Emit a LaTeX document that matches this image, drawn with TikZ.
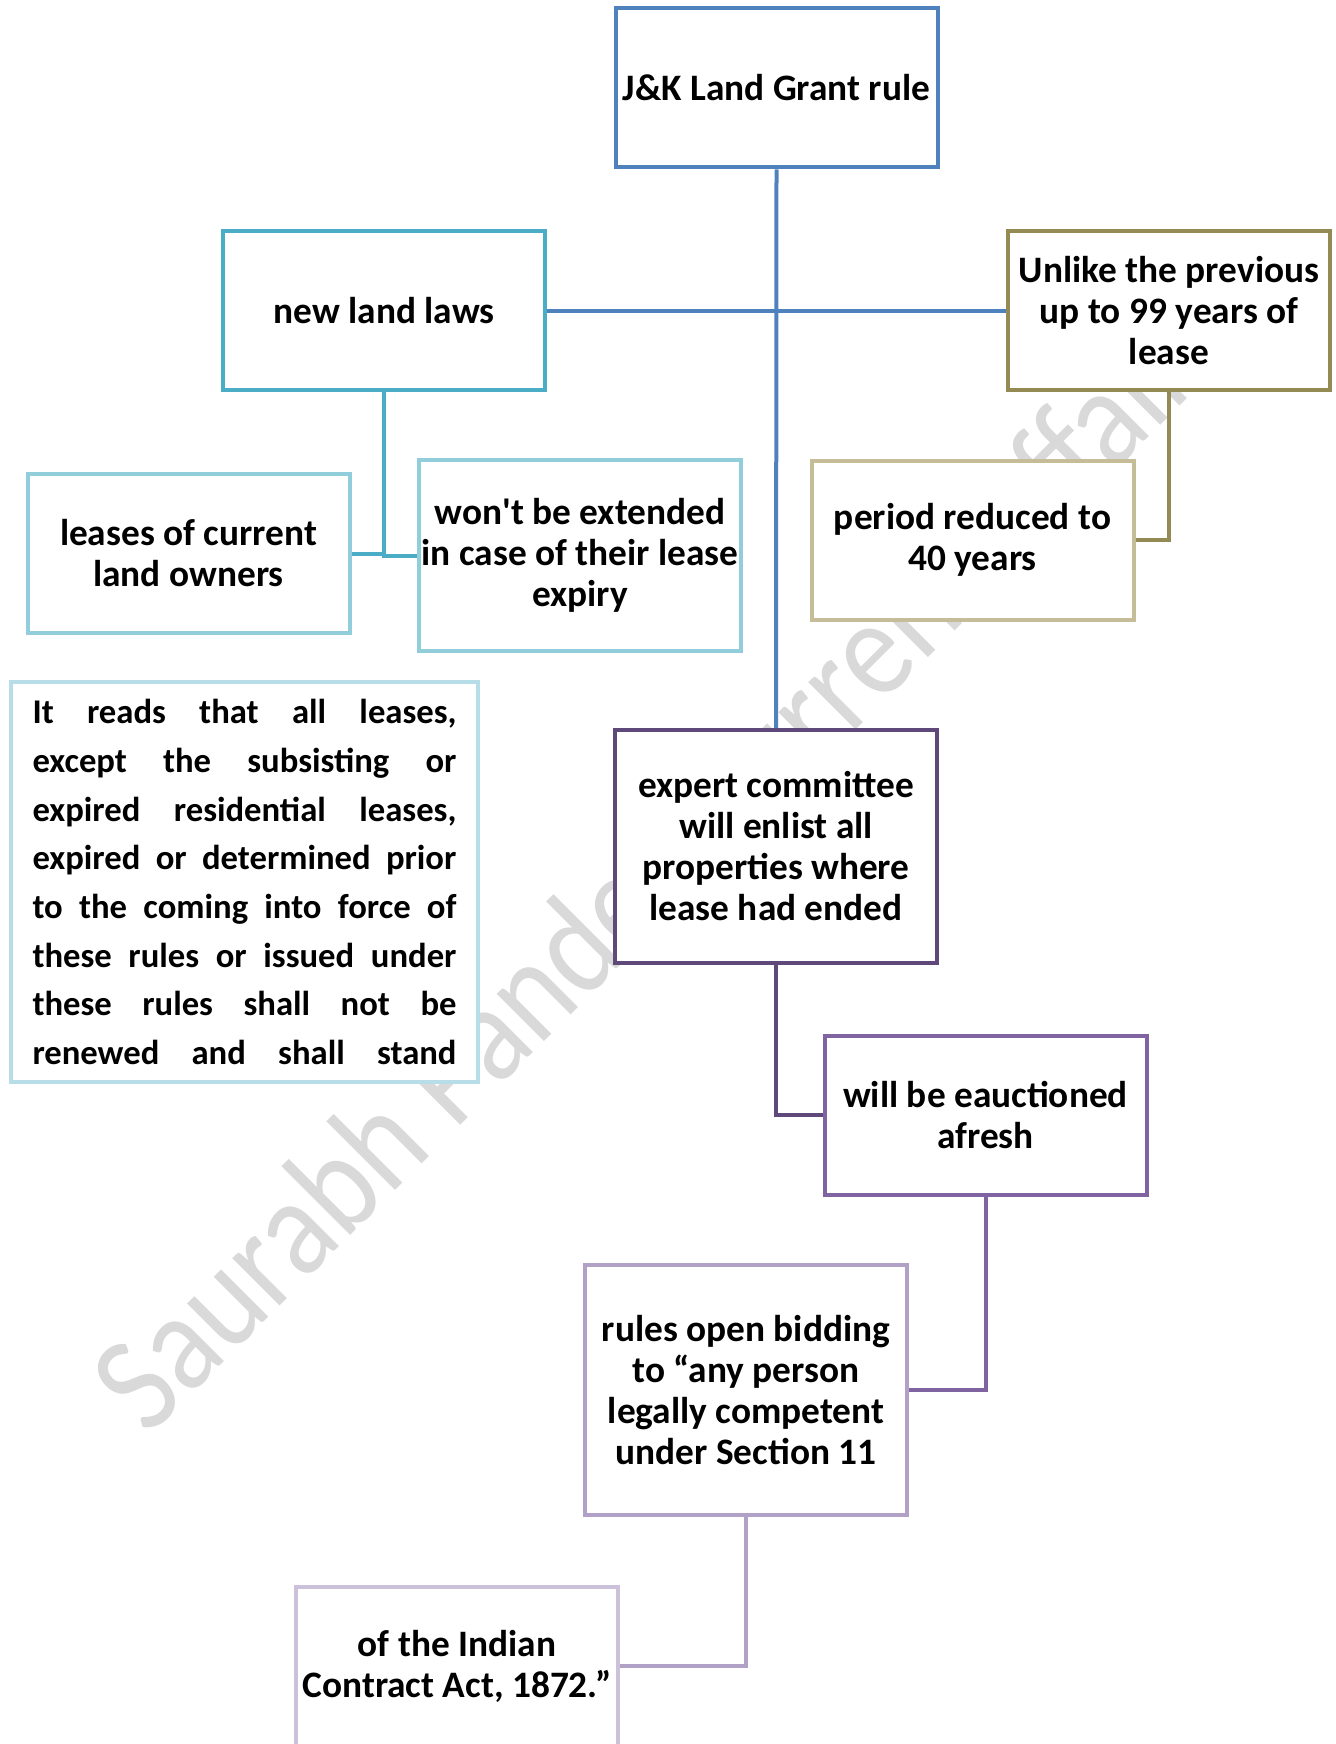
\documentclass[tikz,border=0pt]{standalone}
\usepackage{fontspec}
\setmainfont{Carlito}
\definecolor{gblue}{HTML}{4F81BD}
\definecolor{gaqua}{HTML}{4BACC6}
\definecolor{laqua}{HTML}{92CDDC}
\definecolor{paqua}{HTML}{B7DEE8}
\definecolor{olive}{HTML}{948A54}
\definecolor{tan}{HTML}{C4BD97}
\definecolor{dpurple}{HTML}{5F497A}
\definecolor{mpurple}{HTML}{8064A2}
\definecolor{lpurple}{HTML}{B2A1C7}
\definecolor{ppurple}{HTML}{CCC1DA}
\definecolor{wgray}{HTML}{D9D9D9}
\tikzset{
  box/.style={draw=#1, line width=3pt, fill=white, align=center, inner sep=1pt,
    minimum width=241.5pt, minimum height=119.25pt,
    font=\bfseries\fontsize{28}{30.75}\selectfont},
  link/.style={draw=#1, line width=3pt},
  wmark/.style={text=wgray, rotate=45, xscale=0.87, anchor=base, font=\fontsize{105}{105}\selectfont}
}
\newcommand{\jline}[1]{\makebox[318pt][s]{#1}}

\begin{document}
\begin{tikzpicture}[x=0.75pt,y=-0.75pt]
\useasboundingbox (0,0) rectangle (1335,1744);
\clip (0,0) rectangle (1335,1744);
\node[wmark] (watermark) at (693,893) {Saurabh Pandey Current Affairs};
\node[box=gblue] (grant) at (776.5,88) {J\&K Land Grant rule};
\node[box=gaqua] (newlaws) at (384,310.5) {new land laws};
\node[box=olive] (unlike) at (1169,310.5) {Unlike the previous\\ up to 99 years of\\ lease};
\node[box=laqua] (leases) at (188.5,553.5) {leases of current\\ land owners};
\node[box=laqua, minimum height=143.25pt] (wontext) at (580,555.5) {won\textquotesingle t be extended\\ in case of their lease\\ expiry};
\node[box=tan] (period) at (972.5,540) {period reduced to\\ 40 years};
\node[box=paqua, minimum width=350.25pt, minimum height=300pt, align=left,
  font=\bfseries\fontsize{26}{36.5}\selectfont] (itreads) at (244.5,882) {%
\jline{It reads that all leases,}\\
\jline{except the subsisting or}\\
\jline{expired residential leases,}\\
\jline{expired or determined prior}\\
\jline{to the coming into force of}\\
\jline{these rules or issued under}\\
\jline{these rules shall not be}\\
\jline{renewed and shall stand}};
\node[box=dpurple, minimum height=174.75pt] (expert) at (776,846.5) {expert committee\\ will enlist all\\ properties where\\ lease had ended};
\node[box=mpurple] (eauction) at (985.5,1115) {will be eauctioned\\ afresh};
\node[box=lpurple, minimum height=187.5pt] (rules) at (746,1390) {rules open bidding\\ to “any person\\ legally competent\\ under Section 11};
\node[box=ppurple] (indian) at (457,1666) {of the Indian\\ Contract Act, 1872.”};
\draw[link=gblue] (grant.south) -- (expert.north);
\draw[link=gblue] (newlaws.east) -- (unlike.west);
\draw[link=gaqua] (newlaws.south) |- (leases.east);
\draw[link=gaqua] (newlaws.south) |- (wontext.west);
\draw[link=olive] (unlike.south) |- (period.east);
\draw[link=dpurple] (expert.south) |- (eauction.west);
\draw[link=mpurple] (eauction.south) |- (rules.east);
\draw[link=lpurple] (rules.south) |- (indian.east);
\end{tikzpicture}
\end{document}
